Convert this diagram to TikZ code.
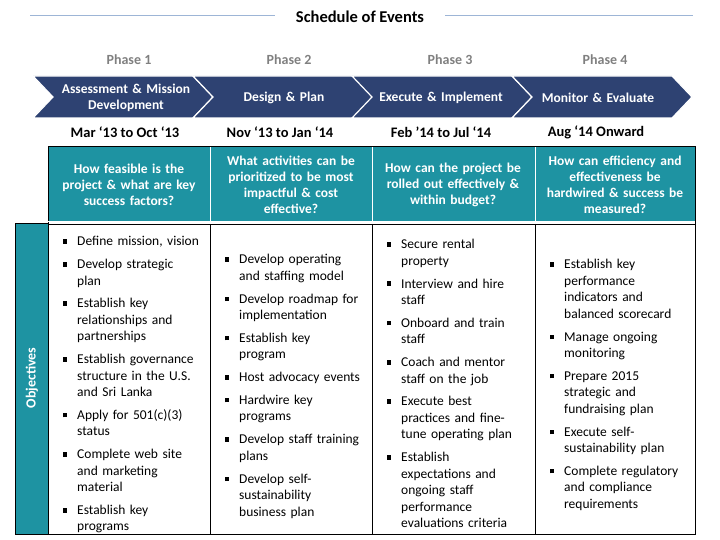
\documentclass[tikz,border=0pt]{standalone}
\usepackage{fontspec}
\setmainfont{Carlito}
\usepackage{enumitem}
\definecolor{navy}{HTML}{2E4272}
\definecolor{teal1}{HTML}{1E93A2}
\definecolor{line1}{HTML}{9DB5D6}
\begin{document}
\begin{tikzpicture}[x=1pt,y=-1pt,
  chev/.style={fill=navy,draw=white,line width=1.2pt},
  hdr/.style={text=white,font=\fontsize{13.5}{16}\selectfont\bfseries,align=center,text width=160pt},
  ph/.style={text=gray,font=\fontsize{14}{16}\selectfont\bfseries},
  dt/.style={font=\fontsize{14.5}{16}\selectfont\bfseries},
  q/.style={text=white,font=\fontsize{13.5}{16}\selectfont\bfseries,align=center,text width=160pt},
  lst/.style={anchor=north west,inner sep=0pt,text width=160pt,align=left,font=\fontsize{13.5}{16.5}\selectfont}]
\useasboundingbox (0,0) rectangle (720,540);
\setlist[itemize]{leftmargin=17pt,labelsep=10pt,itemsep=6.3pt,topsep=0pt,parsep=0pt,label={\rule[2pt]{4.5pt}{4.5pt}}}
% title
\node[font=\fontsize{16.5}{18}\selectfont\bfseries] (title) at (360,17) {Schedule of Events};
\draw[line1,line width=1pt] (30,16) -- (275,16);
\draw[line1,line width=1pt] (445,16) -- (693,16);
% chevrons
\foreach \i/\x in {1/33,2/193,3/352,4/512}{
  \fill[chev] (\x,76) -- (\x+160,76) -- (\x+180,97) -- (\x+160,118) -- (\x,118) -- (\x+20,97) -- cycle;
}
\node[ph] (p1) at (129,60) {Phase 1};
\node[ph] (p2) at (289,60) {Phase 2};
\node[ph] (p3) at (450,60) {Phase 3};
\node[ph] (p4) at (605,60) {Phase 4};
\node[hdr] (c1) at (126,98) {Assessment \& Mission\\Development};
\node[hdr] (c2) at (284,98) {Design \& Plan};
\node[hdr] (c3) at (441,98) {Execute \& Implement};
\node[hdr] (c4) at (598,98) {Monitor \& Evaluate};
\node[dt] (d1) at (125,132) {Mar ‘13 to Oct ‘13};
\node[dt] (d2) at (280,132) {Nov ‘13 to Jan ‘14};
\node[dt] (d3) at (441,132) {Feb ’14 to Jul ‘14};
\node[dt] (d4) at (596,132) {Aug ‘14 Onward};
% table
\fill[teal1] (48,147) rectangle (695,222);
\fill[teal1] (15,223) rectangle (48,534);
\draw[black,line width=1pt] (48,147) rectangle (695,534);
\draw[white,line width=1pt] (48,222) -- (695,222);
\draw[black,line width=0.8pt] (48,224) -- (695,224);
\foreach \x in {210,372,535}{
  \draw[white,line width=1pt] (\x,147) -- (\x,222);
  \draw[black,line width=0.8pt] (\x,224) -- (\x,534);
}
\draw[black,line width=0.8pt] (15,223) rectangle (48,534);
\node[rotate=90,text=white,font=\fontsize{14}{16}\selectfont\bfseries] (obj) at (32,378) {Objectives};
\node[q] (q1) at (129,185) {How feasible is the\\project \& what are key\\success factors?};
\node[q] (q2) at (291,185) {What activities can be\\prioritized to be most\\impactful \& cost\\effective?};
\node[q] (q3) at (453,185) {How can the project be\\rolled out effectively \&\\within budget?};
\node[q] (q4) at (615,185) {How can efficiency and\\effectiveness be\\hardwired \& success be\\measured?};
\node[lst] (l1) at (60,229) {\begin{itemize}
\item Define mission, vision
\item Develop strategic\newline plan
\item Establish key\newline relationships and\newline partnerships
\item Establish governance\newline structure in the U.S.\newline and Sri Lanka
\item Apply for 501(c)(3)\newline status
\item Complete web site\newline and marketing\newline material
\item Establish key\newline programs
\end{itemize}};
\node[lst] (l2) at (222,247) {\begin{itemize}
\item Develop operating\newline and staffing model
\item Develop roadmap for\newline implementation
\item Establish key\newline program
\item Host advocacy events
\item Hardwire key\newline programs
\item Develop staff training\newline plans
\item Develop self-\newline sustainability\newline business plan
\end{itemize}};
\node[lst] (l3) at (384,232) {\begin{itemize}
\item Secure rental\newline property
\item Interview and hire\newline staff
\item Onboard and train\newline staff
\item Coach and mentor\newline staff on the job
\item Execute best\newline practices and fine-\newline tune operating plan
\item Establish\newline expectations and\newline ongoing staff\newline performance\newline evaluations criteria
\end{itemize}};
\node[lst] (l4) at (547,252) {\begin{itemize}
\item Establish key\newline performance\newline indicators and\newline balanced scorecard
\item Manage ongoing\newline monitoring
\item Prepare 2015\newline strategic and\newline fundraising plan
\item Execute self-\newline sustainability plan
\item Complete regulatory\newline and compliance\newline requirements
\end{itemize}};
\end{tikzpicture}
\end{document}
